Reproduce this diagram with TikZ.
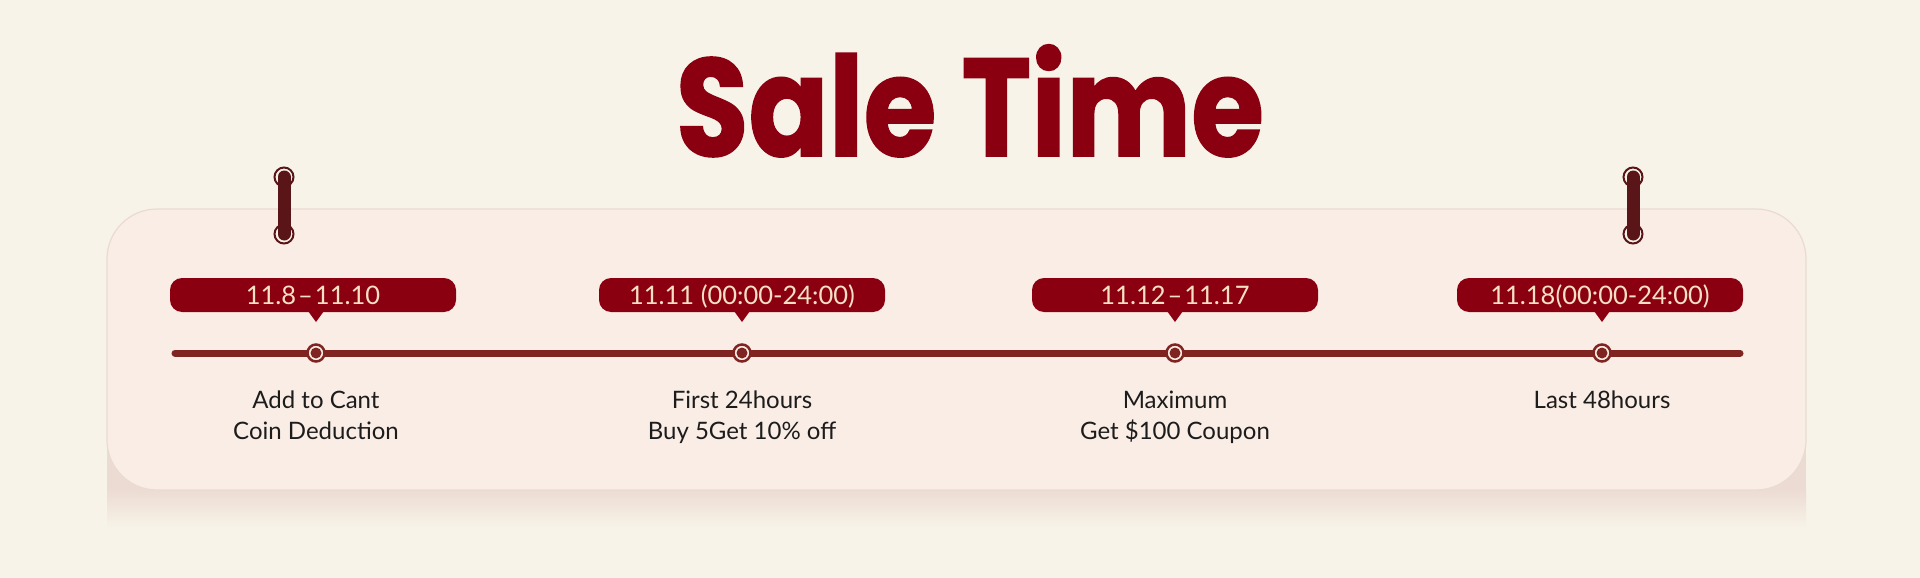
\documentclass[tikz,border=0pt]{standalone}
\usepackage{fontspec}
\setmainfont{Lato}
\newfontfamily\titlefont{Poppins}[BoldFeatures={FakeBold=1.2}]
\usetikzlibrary{positioning}

\definecolor{bg}{HTML}{F7F3E8}
\definecolor{cardfill}{HTML}{FAEDE6}
\definecolor{cardline}{HTML}{EADBD0}
\definecolor{shadowcol}{HTML}{ECDBD2}
\definecolor{salered}{HTML}{8A0010}
\definecolor{linered}{HTML}{7F2420}
\definecolor{hangdark}{HTML}{5A1519}
\definecolor{pilltext}{HTML}{F7E0C4}
\definecolor{bodytext}{HTML}{1C1C1C}

\begin{document}
\begin{tikzpicture}[x=1pt, y=-1pt,
                pill/.style={fill=salered, rounded corners=12pt, minimum width=286pt, minimum height=34pt,
                             inner sep=0pt, text=pilltext, font=\fontsize{25.5}{30}\selectfont,
                             text height=18pt, text depth=0pt},
                dot/.style={circle, draw=linered, line width=2.5pt, fill=cardfill, minimum size=17pt, inner sep=0pt,
                            path picture={\fill[linered] (path picture bounding box.center) circle (5.5);}},
                ring/.style={circle, draw=hangdark, line width=2pt, fill=bg, minimum size=19pt, inner sep=0pt},
                hangbar/.style={draw=hangdark, line width=13pt, line cap=round},
                note/.style={text=bodytext, align=center, anchor=north, inner sep=0pt,
                             font=\fontsize{24}{30.5}\selectfont}]

                % background and card
                \fill[bg] (0,0) rectangle (1920,578);
                \useasboundingbox (0,0) rectangle (1920,578);
                \fill[shadowcol] (107,430) rectangle (1806,490);
                \shade[top color=shadowcol, bottom color=bg] (107,489) rectangle (1806,528);
                \draw[cardline, fill=cardfill, line width=1.2pt, rounded corners=50pt] (107,209) rectangle (1806,490);

                % title
                \node[text=salered, anchor=base, inner sep=0pt] (title) at (970,156)
                     {\scalebox{0.85}[1]{\titlefont\bfseries\fontsize{139}{139}\selectfont Sale Time}};

                % hangers
                \node[ring] (ht1) at (284,177) {};
                \node[ring] (hb1) at (284,234) {};
                \node[ring] (ht2) at (1633,177) {};
                \node[ring] (hb2) at (1633,234) {};
                \path[hangbar] (ht1.center) -- (hb1.center);
                \path[hangbar] (ht2.center) -- (hb2.center);

                % timeline
                \coordinate (start) at (175,353);
                \coordinate (end) at (1740,353);
                \draw[linered, line width=7pt, line cap=round] (start) -- (end);

                \node[dot] (d1) at (316,353) {};
                \node[dot] (d2) at (742,353) {};
                \node[dot] (d3) at (1175,353) {};
                \node[dot] (d4) at (1602,353) {};

                % date labels
                \node[pill] (p1) at (313,295) {11.8\hspace{2pt}–\hspace{2pt}11.10};
                \node[pill] (p2) at (742,295) {11.11 (00:00-24:00)};
                \node[pill] (p3) at (1175,295) {11.12\hspace{2pt}–\hspace{2pt}11.17};
                \node[pill] (p4) at (1600,295) {11.18(00:00-24:00)};

                \fill[salered] (308,311) -- (324,311) -- (316,322) -- cycle;
                \fill[salered] (734,311) -- (750,311) -- (742,322) -- cycle;
                \fill[salered] (1167,311) -- (1183,311) -- (1175,322) -- cycle;
                \fill[salered] (1594,311) -- (1610,311) -- (1602,322) -- cycle;

                % notes
                \node[note] (t1) at (316,391) {Add to Cant\\Coin Deduction};
                \node[note] (t2) at (742,391) {First 24hours\\Buy 5Get 10\% off};
                \node[note] (t3) at (1175,391) {Maximum\\Get \$100 Coupon};
                \node[note] (t4) at (1602,391) {Last 48hours};
\end{tikzpicture}
\end{document}
